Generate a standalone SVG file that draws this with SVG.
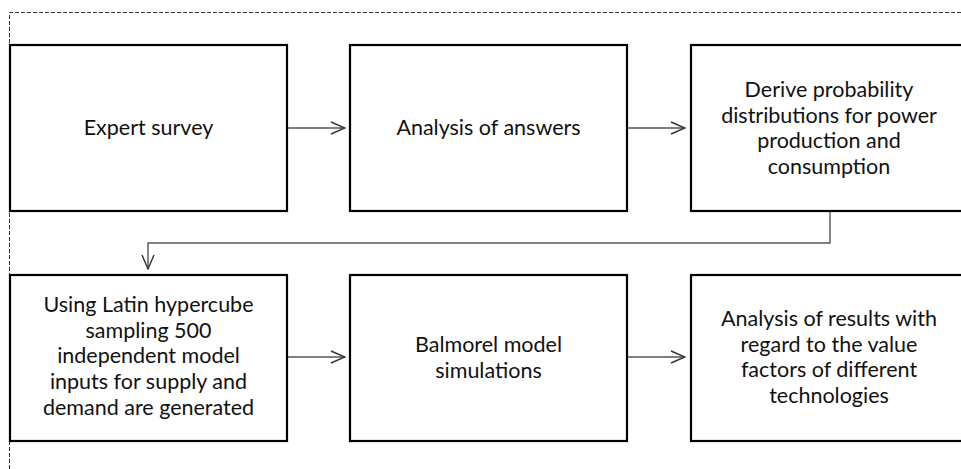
<svg xmlns="http://www.w3.org/2000/svg" width="961" height="469" viewBox="0 0 961 469">
<style>
.box{fill:#fff;stroke:#000;stroke-width:2.2}
.lbl{font-family:Lato,"Open Sans","Liberation Sans",sans-serif;font-size:21.5px;fill:#111;text-anchor:middle}
.con{fill:none;stroke:#555;stroke-width:1.4}
.frame{fill:none;stroke:#333;stroke-width:1;stroke-dasharray:4 2}
</style>
<defs>
<marker id="arr" viewBox="0 0 16 14" refX="15" refY="7" markerWidth="16" markerHeight="14" markerUnits="userSpaceOnUse" orient="auto">
<path d="M1,1 L15,7 L1,13" fill="none" stroke="#333" stroke-width="1.4"/>
</marker>
</defs>
<rect width="961" height="469" fill="#fff"/>
<path class="frame" d="M9.5,469 L9.5,12.5 L961,12.5"/>
<g id="n1"><rect class="box" x="10" y="45" width="277" height="166"/><text class="lbl" x="148.5" y="135">Expert survey</text></g>
<g id="n2"><rect class="box" x="350" y="45" width="277" height="166"/><text class="lbl" x="488.5" y="135">Analysis of answers</text></g>
<g id="n3"><rect class="box" x="691" y="45" width="277" height="166"/><text class="lbl" x="829" y="97"><tspan x="829">Derive probability</tspan><tspan x="829" dy="25.5">distributions for power</tspan><tspan x="829" dy="25.5">production and</tspan><tspan x="829" dy="25.5">consumption</tspan></text></g>
<g id="n4"><rect class="box" x="10" y="275" width="277" height="166"/><text class="lbl" x="148.5" y="312"><tspan x="148.5">Using Latin hypercube</tspan><tspan x="148.5" dy="25.7">sampling 500</tspan><tspan x="148.5" dy="25.7">independent model</tspan><tspan x="148.5" dy="25.7">inputs for supply and</tspan><tspan x="148.5" dy="25.7">demand are generated</tspan></text></g>
<g id="n5"><rect class="box" x="350" y="275" width="277" height="166"/><text class="lbl" x="488.5" y="352"><tspan x="488.5">Balmorel model</tspan><tspan x="488.5" dy="25.5">simulations</tspan></text></g>
<g id="n6"><rect class="box" x="691" y="275" width="277" height="166"/><text class="lbl" x="829" y="326"><tspan x="829">Analysis of results with</tspan><tspan x="829" dy="25.7">regard to the value</tspan><tspan x="829" dy="25.7">factors of different</tspan><tspan x="829" dy="25.7">technologies</tspan></text></g>
<g id="connectors">
<path class="con" d="M288,128 L345,128" marker-end="url(#arr)"/>
<path class="con" d="M628,128 L685,128" marker-end="url(#arr)"/>
<path class="con" d="M830,212 L830,243 L148,243 L148,269" marker-end="url(#arr)"/>
<path class="con" d="M288,357 L345,357" marker-end="url(#arr)"/>
<path class="con" d="M628,357 L685,357" marker-end="url(#arr)"/>
</g>
</svg>
